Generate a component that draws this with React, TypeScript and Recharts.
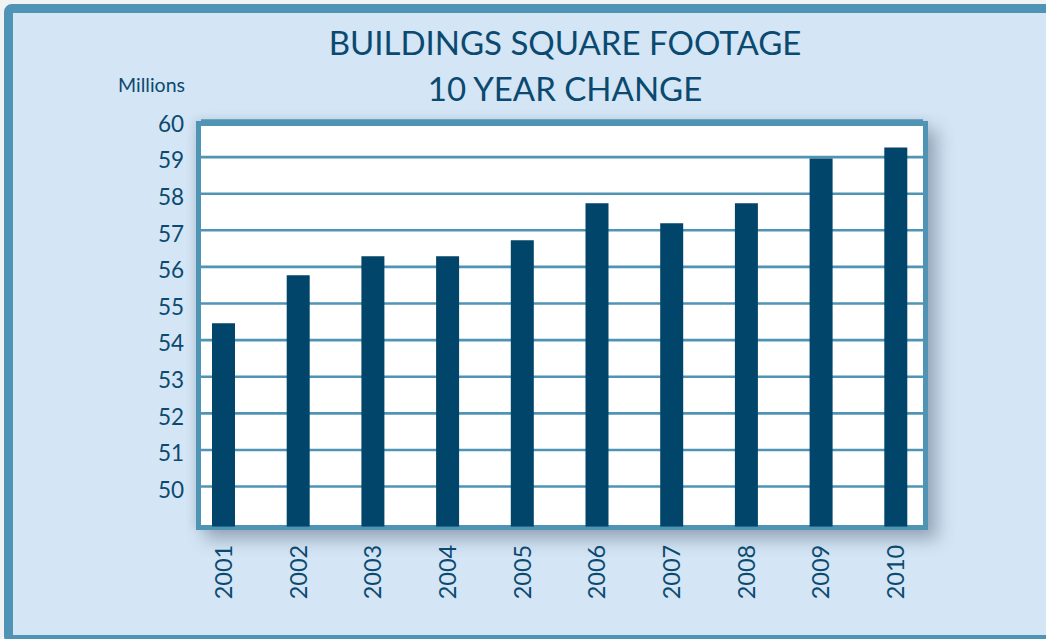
import { BarChart, Bar, XAxis, YAxis, CartesianGrid } from 'recharts';

const years = ['2001', '2002', '2003', '2004', '2005', '2006', '2007', '2008', '2009', '2010'];
const footage = [54.46, 55.77, 56.29, 56.29, 56.73, 57.74, 57.19, 57.74, 58.96, 59.26];
const yTicks = [50, 51, 52, 53, 54, 55, 56, 57, 58, 59, 60];

const data = years.map((year, i) => ({ year, footage: footage[i] }));

const TEAL = '#4f94b5';
const INK = '#0b4a70';
const BAR = '#02456a';
const FONT = 'Lato, "Open Sans", sans-serif';

function YearTick({ x, y, payload }: any) {
  return (
    <text
      transform={`translate(${x},${y}) rotate(-90)`}
      textAnchor="end"
      dy="0.36em"
      fill={INK}
      fontSize={23.5}
      fontFamily={FONT}
    >
      {payload.value}
    </text>
  );
}

function ValueTick({ x, y, payload }: any) {
  return (
    <text x={x} y={y} dy="0.5em" textAnchor="end" fill={INK} fontSize={22.5} fontFamily={FONT}>
      {payload.value}
    </text>
  );
}

export default function App() {
  return (
    <div style={{ position: 'absolute', left: 0, top: 0, width: 1046, height: 639, overflow: 'hidden', background: '#f1f2f3' }}>
      {/* outer panel */}
      <div
        style={{
          position: 'absolute', left: 4, top: 4, width: 1060, height: 640,
          border: `9px solid ${TEAL}`, borderRadius: 8, background: '#d4e5f5',
          boxSizing: 'border-box',
        }}
      />
      {/* plot frame */}
      <div
        style={{
          position: 'absolute', left: 196, top: 121, width: 732, height: 409,
          border: `5px solid ${TEAL}`, background: '#fff', boxSizing: 'border-box',
          boxShadow: '9px 9px 16px rgba(70, 90, 110, 0.45), -2px -2px 8px rgba(70, 90, 110, 0.12)',
        }}
      />
      <div style={{ position: 'absolute', left: 0, width: 1046, top: 19, textAlign: 'center', paddingLeft: 84, boxSizing: 'border-box', color: INK, fontFamily: FONT, fontSize: 33, lineHeight: '46px' }}>
        <div>BUILDINGS SQUARE FOOTAGE</div>
        <div>10 YEAR CHANGE</div>
      </div>
      <div style={{ position: 'absolute', right: 1046 - 185, top: 73, color: INK, fontFamily: FONT, fontSize: 19.5 }}>
        Millions
      </div>
      <div style={{ position: 'absolute', left: 0, top: 0 }}>
        <BarChart
          width={1046}
          height={639}
          data={data}
          margin={{ top: 120.5, left: 141, right: 123, bottom: 32.2 }}
        >
          <CartesianGrid vertical={false} stroke={TEAL} strokeWidth={2.6} />
          <XAxis
            dataKey="year"
            height={80}
            padding={{ left: -15, right: -10 }}
            axisLine={false}
            tickLine={false}
            tickSize={0}
            tickMargin={18}
            interval={0}
            tick={<YearTick />}
          />
          <YAxis
            width={60}
            domain={[48.9, 60]}
            ticks={yTicks}
            allowDataOverflow
            axisLine={false}
            tickLine={false}
            tickSize={0}
            tickMargin={17}
            tick={<ValueTick />}
          />
          <Bar dataKey="footage" fill={BAR} barSize={23} isAnimationActive={false} />
        </BarChart>
      </div>
    </div>
  );
}
